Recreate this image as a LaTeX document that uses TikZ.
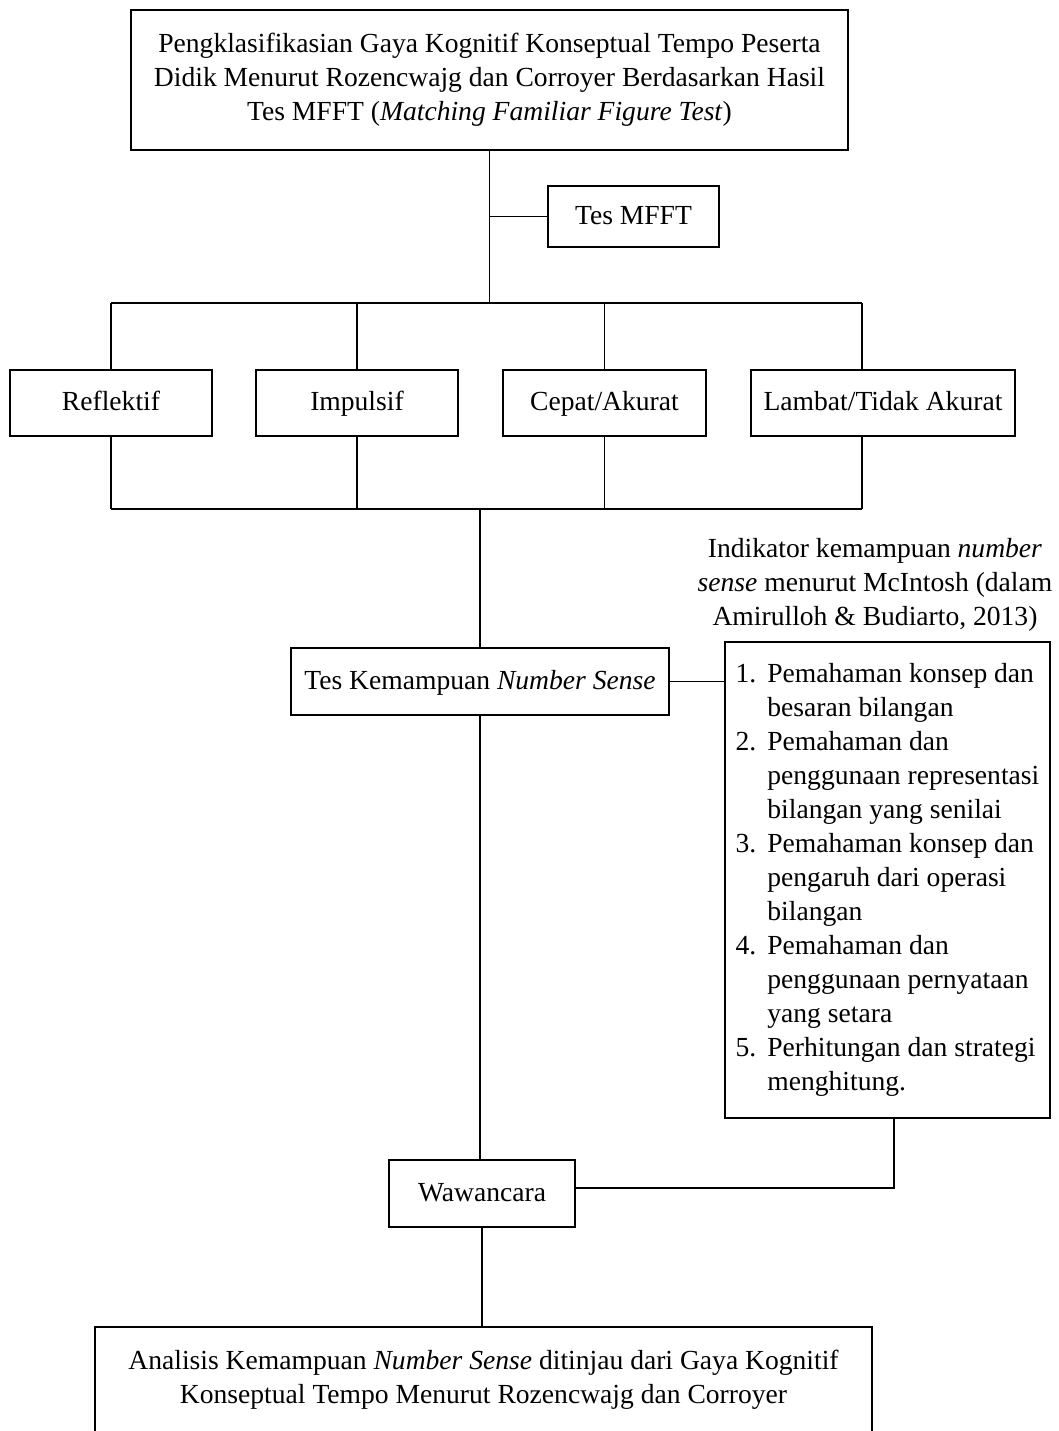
\documentclass[tikz,border=0pt]{standalone}
\usepackage{fontspec}
\setmainfont{Liberation Serif}
\usetikzlibrary{positioning,calc}

\tikzset{
    kotak/.style 2 args={draw, line width=0.75pt, align=center, inner sep=0pt,
        minimum width=#1*0.435pt, minimum height=#2*0.435pt},
    sebaris/.style={text height=9.2pt, text depth=2.6pt},
    garis/.style={line width=0.75pt}
}

\begin{document}
\begin{tikzpicture}[x=0.435pt, y=-0.435pt, font=\fontsize{12}{14.8}\selectfont]
    \path[use as bounding box] (0,0) rectangle (1059,1431);
    \clip (0,0) rectangle (1059,1431);

    % Judul
    \node[kotak={717}{140}] (judul) at (489.5,80) {Pengklasifikasian Gaya Kognitif Konseptual Tempo Peserta\\
        Didik Menurut Rozencwajg dan Corroyer Berdasarkan Hasil\\
        Tes MFFT (\textit{Matching Familiar Figure Test})};
    \node[kotak={171}{61}, sebaris] (mfft) at (633.5,216.5) {Tes MFFT};
    \coordinate (barA) at (0,303); % bar atas
    \coordinate (barB) at (0,509); % bar bawah
    \draw[garis] (judul.south) -- (judul.south |- barA);
    \draw[garis] (judul.south |- mfft.west) -- (mfft.west);

    % Gaya kognitif
    \node[kotak={202}{66}, sebaris] (refl) at (111,403) {Reflektif};
    \node[kotak={202}{66}, sebaris] (imp) at (357,403) {Impulsif};
    \node[kotak={203}{66}, sebaris] (cepat) at (604.5,403) {Cepat/Akurat};
    \node[kotak={264}{66}, sebaris] (lambat) at (883,403) {Lambat/Tidak Akurat};
    \coordinate (lambatX) at (862,403);

    \draw[garis] (refl.north |- barA) -- (lambatX |- barA);
    \draw[garis] (refl.south |- barB) -- (lambatX |- barB);
    \foreach \n in {refl,imp,cepat} {
        \draw[garis] (\n.north) -- (\n.north |- barA);
        \draw[garis] (\n.south) -- (\n.south |- barB);
    }
    \draw[garis] (lambatX |- lambat.north) -- (lambatX |- barA);
    \draw[garis] (lambatX |- lambat.south) -- (lambatX |- barB);

    % Tes number sense
    \node[kotak={378}{67}, sebaris] (tes) at (480,681.5) {Tes Kemampuan \textit{Number Sense}};
    \draw[garis] (tes.north |- barB) -- (tes.north);

    % Indikator
    \node[align=center, inner sep=0pt] (judulInd) at (875,585) {Indikator kemampuan \textit{number}\\
        \textit{sense} menurut McIntosh (dalam\\
        Amirulloh \& Budiarto, 2013)};
    \node[kotak={325}{476}, align=left] (indikator) at (887.5,880) {%
        \begin{tabular}{@{}l@{\hspace{4.8pt}}l@{}}
        1. & Pemahaman konsep dan\\
           & besaran bilangan\\
        2. & Pemahaman dan\\
           & penggunaan representasi\\
           & bilangan yang senilai\\
        3. & Pemahaman konsep dan\\
           & pengaruh dari operasi\\
           & bilangan\\
        4. & Pemahaman dan\\
           & penggunaan pernyataan\\
           & yang setara\\
        5. & Perhitungan dan strategi\\
           & menghitung.
        \end{tabular}};
    \draw[garis] (tes.east) -- (tes.east -| indikator.west);

    % Wawancara
    \node[kotak={186}{67}, sebaris] (wawancara) at (482,1193.5) {Wawancara};
    \coordinate (belok) at (894,1188);
    \draw[garis] (tes.south) -- (tes.south |- wawancara.north);
    \draw[garis] (indikator.south -| belok) -- (belok) -- (belok -| wawancara.east);

    % Analisis
    \node[kotak={777}{106}] (analisis) at (483.5,1380) {Analisis Kemampuan \textit{Number Sense} ditinjau dari Gaya Kognitif\\
        Konseptual Tempo Menurut Rozencwajg dan Corroyer};
    \draw[garis] (wawancara.south) -- (wawancara.south |- analisis.north);
\end{tikzpicture}
\end{document}
